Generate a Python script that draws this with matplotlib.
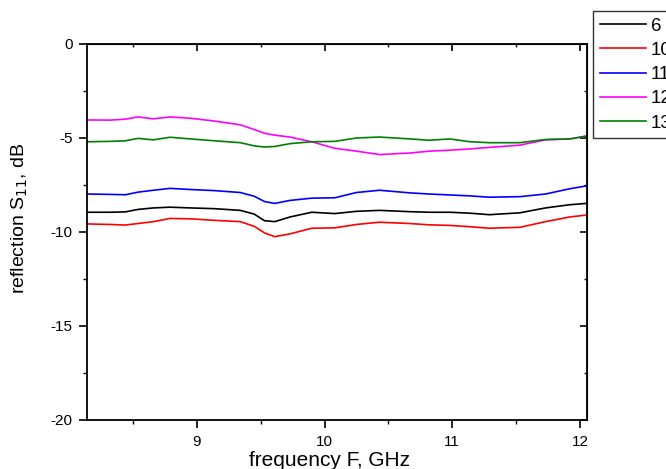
import matplotlib.pyplot as plt
from matplotlib.ticker import MultipleLocator
import numpy as np

plt.rcParams['font.family'] = ['Liberation Sans', 'DejaVu Sans']
plt.rcParams['axes.unicode_minus'] = False

# frequency points (GHz) and S11 (dB) for each sample
freq = [8.14, 8.32, 8.44, 8.54, 8.66, 8.79, 8.95, 9.14, 9.34, 9.45, 9.53, 9.61,
        9.73, 9.90, 10.08, 10.25, 10.43, 10.67, 10.82, 10.98, 11.14, 11.29,
        11.53, 11.73, 11.92, 12.05]

s11_6 = [-8.95, -8.95, -8.93, -8.80, -8.72, -8.68, -8.72, -8.76, -8.85, -9.05, -9.40, -9.45,
         -9.20, -8.95, -9.02, -8.90, -8.85, -8.92, -8.95, -8.95, -9.00, -9.08,
         -8.98, -8.72, -8.55, -8.48]
s11_10 = [-9.57, -9.60, -9.63, -9.55, -9.45, -9.28, -9.30, -9.38, -9.45, -9.70, -10.05, -10.25,
          -10.10, -9.80, -9.78, -9.60, -9.48, -9.55, -9.62, -9.65, -9.72, -9.80,
          -9.75, -9.45, -9.20, -9.10]
s11_11 = [-7.98, -8.00, -8.02, -7.88, -7.78, -7.68, -7.74, -7.80, -7.90, -8.10, -8.38, -8.48,
          -8.32, -8.20, -8.18, -7.90, -7.78, -7.92, -7.98, -8.03, -8.08, -8.15,
          -8.12, -7.98, -7.70, -7.55]
s11_12 = [-4.04, -4.05, -4.00, -3.88, -3.98, -3.88, -3.95, -4.10, -4.30, -4.55, -4.75, -4.85,
          -4.95, -5.20, -5.55, -5.70, -5.88, -5.80, -5.70, -5.65, -5.58, -5.50,
          -5.38, -5.10, -5.05, -4.90]
s11_13 = [-5.20, -5.18, -5.15, -5.02, -5.10, -4.96, -5.05, -5.15, -5.25, -5.42, -5.48, -5.45,
          -5.30, -5.20, -5.18, -5.00, -4.95, -5.05, -5.12, -5.05, -5.20, -5.25,
          -5.25, -5.08, -5.05, -4.90]

labels = ['6', '10', '11', '12', '13']
colors = ['black', 'red', 'blue', 'magenta', 'green']

fig = plt.figure(figsize=(6.66, 4.69), dpi=100)
ax = fig.add_axes([0.1306, 0.1045, 0.7508, 0.8017])

for s, lab, c in zip([s11_6, s11_10, s11_11, s11_12, s11_13], labels, colors):
    ax.plot(freq, s, color=c, lw=1.2, label=lab)

ax.set_xlim(8.14, 12.055)
ax.set_ylim(-20, 0)
ax.xaxis.set_major_locator(MultipleLocator(1))
ax.xaxis.set_minor_locator(MultipleLocator(0.5))
ax.yaxis.set_major_locator(MultipleLocator(5))
ax.yaxis.set_minor_locator(MultipleLocator(2.5))
ax.tick_params(which='major', direction='out', length=6, width=1.2, labelsize=11, pad=4.5)
ax.tick_params(which='minor', direction='out', length=3, width=1.0)
for sp in ax.spines.values():
    sp.set_linewidth(1.3)

# mirrored inward ticks on top and right
top = ax.secondary_xaxis('top')
top.xaxis.set_major_locator(MultipleLocator(1))
top.xaxis.set_minor_locator(MultipleLocator(0.5))
top.tick_params(which='major', direction='in', length=5, width=1.2, labeltop=False)
top.tick_params(which='minor', direction='in', length=2.5, width=1.0)
right = ax.secondary_yaxis('right')
right.yaxis.set_major_locator(MultipleLocator(5))
right.yaxis.set_minor_locator(MultipleLocator(2.5))
right.tick_params(which='major', direction='in', length=5, width=1.2, labelright=False)
right.tick_params(which='minor', direction='in', length=2.5, width=1.0)

ax.set_xlabel('frequency F, GHz', fontsize=15)
ax.xaxis.set_label_coords(0.486, -0.082)
ax.set_ylabel('reflection S$_{11}$, dB', fontsize=14)
ax.yaxis.set_label_coords(-0.113, 0.537)

leg = fig.legend(loc='upper left', bbox_to_anchor=(593 / 666, 1 - 11 / 469),
                 borderaxespad=0, fontsize=13.5, frameon=True, fancybox=False,
                 edgecolor='black', handlelength=2.5, handletextpad=0.25,
                 labelspacing=0.38, borderpad=0.35)
leg.get_frame().set_linewidth(1.0)

fig.savefig('out.png', dpi=100)
